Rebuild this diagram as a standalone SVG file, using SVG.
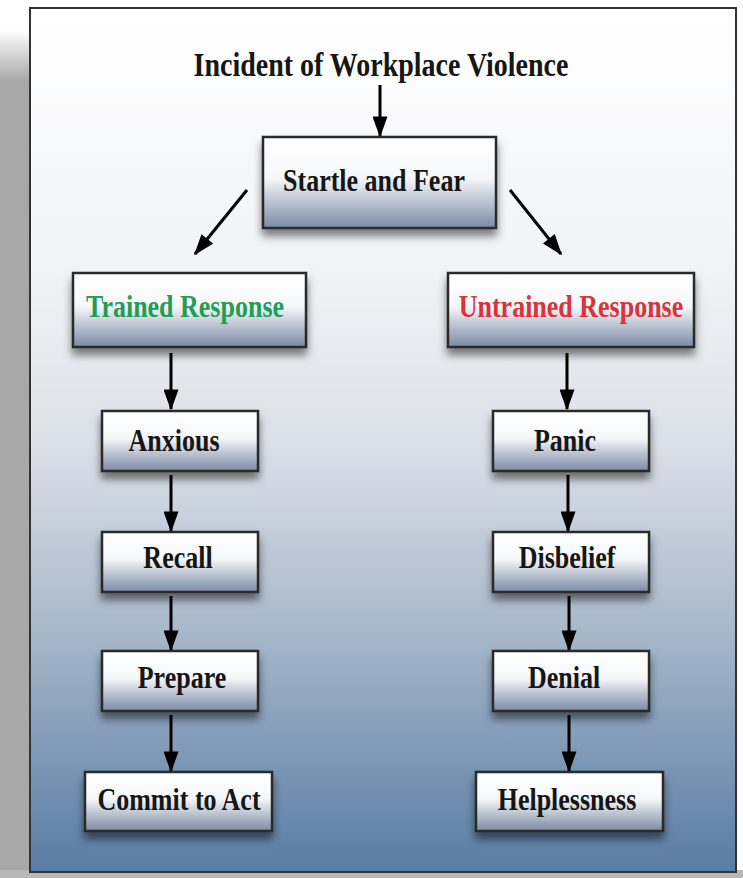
<svg xmlns="http://www.w3.org/2000/svg" width="743" height="878" viewBox="0 0 743 878">
<defs>
<linearGradient id="bg" x1="0" y1="0" x2="0" y2="1">
<stop offset="0" stop-color="#ffffff"/>
<stop offset="0.3" stop-color="#f2f3f6"/>
<stop offset="0.5" stop-color="#dce1e8"/>
<stop offset="0.72" stop-color="#a8b8ca"/>
<stop offset="1" stop-color="#587ca4"/>
</linearGradient>
<linearGradient id="box" x1="0" y1="0" x2="0" y2="1">
<stop offset="0" stop-color="#ffffff"/>
<stop offset="0.45" stop-color="#f6f7f9"/>
<stop offset="1" stop-color="#7a8aa5"/>
</linearGradient>
<linearGradient id="shade" x1="0" y1="0" x2="0" y2="1">
<stop offset="0" stop-color="#ffffff"/>
<stop offset="0.06" stop-color="#a8a8a8"/>
<stop offset="1" stop-color="#a8a8a8"/>
</linearGradient>
<filter id="ds" x="-20%" y="-20%" width="140%" height="160%">
<feDropShadow dx="0" dy="7" stdDeviation="4" flood-color="#000" flood-opacity="0.5"/>
</filter>
<marker id="ah" viewBox="0 0 14 10" refX="13" refY="5" markerWidth="7.5" markerHeight="5" markerUnits="strokeWidth" orient="auto">
<path d="M0,0 L14,5 L0,10 z" fill="#000"/>
</marker>
<style>
.bx{fill:url(#box);stroke:#2b2b2b;stroke-width:2.5;filter:url(#ds)}
.t{font-family:"Liberation Serif","Times New Roman",serif;font-weight:bold;font-size:26px;fill:#161616;text-anchor:middle}
.c{stroke:#000;stroke-width:3;fill:none;marker-end:url(#ah)}
</style>
</defs>
<rect x="0" y="0" width="743" height="878" fill="#ffffff"/>
<rect x="0" y="30" width="32" height="848" fill="url(#shade)"/>
<rect x="0" y="870" width="743" height="8" fill="#b8b8b8"/>
<rect x="30" y="8" width="706" height="864" fill="url(#bg)" stroke="#333" stroke-width="2"/>

<g id="title">
<text class="t" transform="translate(381,76) scale(1,1.2)" style="font-size:28px">Incident of Workplace Violence</text>
</g>

<g id="connectors">
<line class="c" x1="380" y1="85" x2="380" y2="136"/>
<line class="c" x1="247" y1="190" x2="195" y2="254"/>
<line class="c" x1="510" y1="190" x2="561" y2="254"/>
<line class="c" x1="171" y1="353" x2="171" y2="409"/>
<line class="c" x1="171" y1="475" x2="171" y2="531"/>
<line class="c" x1="171" y1="596" x2="171" y2="650"/>
<line class="c" x1="171" y1="715" x2="171" y2="771"/>
<line class="c" x1="567" y1="353" x2="567" y2="409"/>
<line class="c" x1="568" y1="475" x2="568" y2="531"/>
<line class="c" x1="569" y1="596" x2="569" y2="650"/>
<line class="c" x1="569" y1="715" x2="569" y2="771"/>
</g>

<g id="startle">
<rect class="bx" x="263" y="137" width="233" height="91"/>
<text class="t" transform="translate(374,191) scale(1,1.2)">Startle and Fear</text>
</g>
<g id="trained">
<rect class="bx" x="73" y="273" width="233" height="74"/>
<text class="t" transform="translate(185,317) scale(1,1.2)" style="fill:#1f9e55">Trained Response</text>
</g>
<g id="untrained">
<rect class="bx" x="448" y="273" width="246" height="74"/>
<text class="t" transform="translate(571,317) scale(1,1.2)" style="fill:#d8343a">Untrained Response</text>
</g>
<g id="anxious">
<rect class="bx" x="102" y="411" width="156" height="60"/>
<text class="t" transform="translate(174,451) scale(1,1.2)">Anxious</text>
</g>
<g id="recall">
<rect class="bx" x="102" y="532" width="156" height="60"/>
<text class="t" transform="translate(178,568) scale(1,1.2)">Recall</text>
</g>
<g id="prepare">
<rect class="bx" x="102" y="651" width="156" height="60"/>
<text class="t" transform="translate(182,688) scale(1,1.2)">Prepare</text>
</g>
<g id="commit">
<rect class="bx" x="85" y="772" width="187" height="59"/>
<text class="t" transform="translate(179,810) scale(1,1.2)">Commit to Act</text>
</g>
<g id="panic">
<rect class="bx" x="493" y="411" width="156" height="60"/>
<text class="t" transform="translate(565,451) scale(1,1.2)">Panic</text>
</g>
<g id="disbelief">
<rect class="bx" x="493" y="532" width="156" height="60"/>
<text class="t" transform="translate(567,568) scale(1,1.2)">Disbelief</text>
</g>
<g id="denial">
<rect class="bx" x="493" y="651" width="156" height="60"/>
<text class="t" transform="translate(564,688) scale(1,1.2)">Denial</text>
</g>
<g id="helplessness">
<rect class="bx" x="476" y="772" width="187" height="59"/>
<text class="t" transform="translate(567,810) scale(1,1.2)">Helplessness</text>
</g>
</svg>
